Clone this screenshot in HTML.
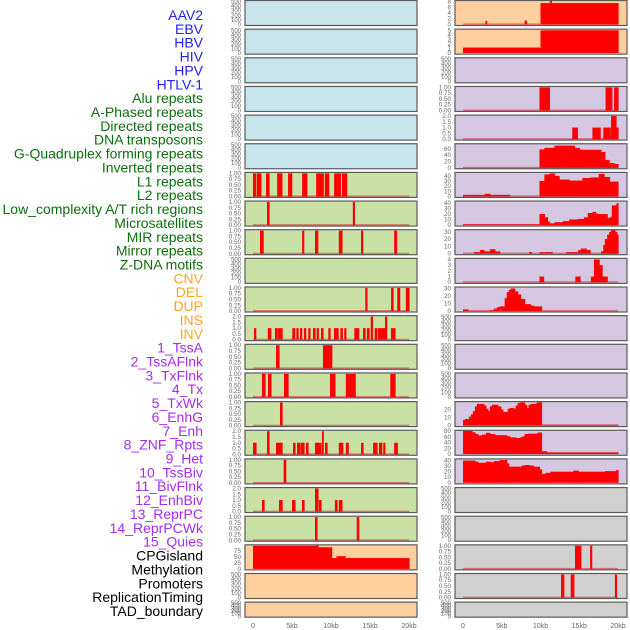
<!DOCTYPE html>
<html><head><meta charset="utf-8"><style>
html,body{margin:0;padding:0;background:#fff;}
svg{display:block;font-family:"Liberation Sans",sans-serif;}
</style></head><body>
<svg id="chart" width="630" height="630" viewBox="0 0 630 630" xmlns="http://www.w3.org/2000/svg"></svg>
<script>
// ---------- data ----------
const labelNames = ["AAV2","EBV","HBV","HIV","HPV","HTLV-1",
 "Alu repeats","A-Phased repeats","Directed repeats","DNA transposons","G-Quadruplex forming repeats","Inverted repeats","L1 repeats","L2 repeats","Low_complexity A/T rich regions","Microsatellites","MIR repeats","Mirror repeats","Z-DNA motifs",
 "CNV","DEL","DUP","INS","INV",
 "1_TssA","2_TssAFlnk","3_TxFlnk","4_Tx","5_TxWk","6_EnhG","7_Enh","8_ZNF_Rpts","9_Het","10_TssBiv","11_BivFlnk","12_EnhBiv","13_ReprPC","14_ReprPCWk","15_Quies",
 "CPGisland","Methylation","Promoters","ReplicationTiming","TAD_boundary"];
const labelGroupSizes = [6,13,5,15,5];
const labelGroupColors = ["#2222f0","#0d6e0d","#ffa520","#a52cf0","#000000"];
const xTickValues = [0,5,10,15,20];
const xTickLabels = ["0","5kb","10kb","15kb","20kb"];

const ticksEmpty = [0,100,200,300,400,500];
const ticksBin = [0,0.25,0.5,0.75,1];
const ticksBin2 = [0,0.5,1,1.5,2];

const barsL6 = [[0,0.35,1],[0.5,1.0,1],[1.67,2.05,1],[3.1,3.7,1],[4.5,4.96,1],[6.3,6.9,1],[8.1,9.0,1],[9.2,9.7,1],[10.4,11.2,1],[11.4,12.0,1]];
const barsL7 = [[1.8,2.05,1],[12.8,13.0,1]];
const barsL8 = [[0.9,1.3,1],[6.3,6.5,1],[7.95,8.3,1],[11.0,11.4,1],[13.85,14.05,1],[18.1,18.4,1]];
const barsL10 = [[14.4,14.6,1],[17.7,17.95,1],[18.5,18.8,1],[19.6,20.0,1]];
const barsL11 = [[0.13,0.35,1],[1.9,2.27,1],[2.82,3.1,1],[3.22,3.72,1],[5.04,5.34,1],[5.56,5.77,1],[6.03,6.24,1],[6.54,6.75,1],[7.09,7.3,1],[7.69,7.95,1],[8.16,8.37,1],[8.72,8.97,1],[9.66,9.87,1],[10.38,10.9,1],[11.2,11.45,1],[11.7,11.9,1],[12.99,13.54,1],[14.1,14.36,1],[14.6,14.87,1],[15.09,15.3,2],[15.6,15.85,1],[16.0,16.9,1],[16.92,17.13,2],[17.69,18.2,1]];
const barsL12 = [[2.95,3.33,1],[8.97,10.1,1]];
const barsL13 = [[1.15,1.54,1],[1.92,2.3,1],[3.97,4.49,1],[9.87,10.5,1],[11.9,13.1,1],[17.6,18.2,1]];
const barsL14 = [[3.46,3.72,1]];
const barsL15 = [[0,0.38,1],[1.8,2.05,2],[2.95,3.72,1],[5.13,5.38,1],[5.64,6.03,1],[6.15,6.54,1],[6.8,7.05,1],[7.95,8.72,1],[8.85,9.0,2],[9.23,9.49,1],[11.0,11.5,1],[11.9,12.2,1],[13.85,14.1,1],[15.4,15.9,1],[16.15,16.5,1],[16.7,16.9,1],[18.1,18.5,1]];
const barsL16 = [[3.93,4.19,1]];
const barsL17 = [[1.15,1.41,1],[3.33,3.72,1],[5.0,5.38,1],[6.28,6.54,1],[7.95,8.33,2],[8.46,8.72,1],[10.5,10.77,1],[11.0,11.4,1]];
const barsL18 = [[7.95,8.2,1],[13.3,13.55,1]];
const barsL19 = [[0,8.1,96],[8.1,8.35,98],[8.35,10.08,90],[10.08,10.7,45],[10.7,11.8,53],[11.8,20,45]];

const barsR0 = [[2.9,3.05,1.2],[7.95,8.2,1.3],[10,20,7.5],[11.2,11.4,8.5]];
const barsR1 = [[0,10,1.2],[10,20,5]];
const barsR3 = [[9.87,11.15,1],[18.4,19.2,1],[19.5,20,1]];
const barsR4 = [[14.1,14.75,1],[16.7,17.7,1],[18.1,19.0,1],[19.1,19.74,2],[19.74,20,1]];
const barsR5 = [[9.87,10.5,58],[10.5,11.8,63],[11.8,14.36,70],[14.36,15.0,63],[15.0,17.8,57],[17.8,18.3,50],[18.3,18.85,25],[18.85,19.5,15],[19.5,20,12]];
const barsR6 = [[0,2.82,3],[2.82,3.46,5],[3.46,6.03,3],[9.87,10.5,30],[10.5,11.15,43],[11.15,11.8,45],[11.8,12.4,40],[12.4,13.7,33],[13.7,15.4,31],[15.4,16.4,36],[16.4,17.5,37],[17.5,18.2,44],[18.2,18.9,38],[18.9,20,29]];
const barsR7 = [[0,9.87,1],[9.87,10.5,20],[10.5,10.9,14],[10.9,11.15,6],[11.15,11.8,3],[11.8,12.9,5],[12.9,13.7,7],[13.7,14.8,10],[14.8,15.6,11],[15.6,16.1,14],[16.1,16.7,22],[16.7,17.1,24],[17.1,17.3,21],[17.3,18.6,20],[18.6,19.0,13],[19.0,19.2,15],[19.2,19.8,36],[19.8,20,40]];
const barsR8 = [[1.41,2.18,2],[2.18,2.7,5],[2.7,3.46,3],[3.46,4.1,6],[4.1,4.74,3],[8.5,8.85,2],[9.87,10.4,2],[10.5,11.5,2],[13.3,14.87,2],[14.87,15.2,5],[15.2,15.9,7],[15.9,16.4,5],[17.8,18.1,3],[18.1,18.3,12],[18.3,18.6,20],[18.6,18.85,26],[18.85,19.1,30],[19.1,19.6,33],[19.6,19.85,30],[19.85,20,26]];
const barsR9 = [[9.87,10.4,1],[14.5,15.1,1],[16.5,16.9,1],[16.9,17.56,4],[17.56,17.95,3],[17.95,18.6,1]];
const barsR10 = [[0,0.64,2],[3.46,3.97,1],[3.97,4.36,3],[4.36,4.74,5],[4.74,5.38,6],[5.38,5.64,17],[5.64,5.9,25],[5.9,6.15,28],[6.15,6.67,30],[6.67,7.05,26],[7.05,7.43,22],[7.43,7.95,16],[7.95,8.72,9],[8.72,9.1,7],[9.1,10.13,6]];
const r14Breaks = [0,0.26,0.77,1.03,1.28,1.54,1.79,2.69,2.95,3.21,3.46,3.72,4.49,4.87,5.13,5.77,6.03,6.54,6.79,7.05,7.31,7.95,8.21,8.46,8.72,9.49,10.13,20];
const r14Vals = [7,8,11,14,18,24,27,25,21,18,24,26,24,20,17,21,22,21,25,28,29,26,22,26,27,29,0.8];
const r15Breaks = [0,1.15,1.54,1.92,2.44,2.95,3.46,4.1,5.64,6.03,6.79,7.31,7.69,7.95,8.46,9.62,10.13,10.77,20];
const r15Vals = [81,76,70,65,68,74,70,66,62,58,56,58,62,70,71,75,10,6];
const r16Breaks = [0,1.54,1.92,2.95,3.59,3.97,4.74,5.64,5.9,7.56,7.95,8.59,9.1,9.87,10.13,10.64,11.28,14.23,14.87,18.33,19.74,20];
const r16Vals = [40,38,36,38,37,39,41,35,29,31,32,31,29,24,16,18,20,22,20,21,23];
const barsR19 = [[14.45,15.2,1],[16.4,16.6,1]];
const barsR20 = [[12.65,13.0,1],[13.9,14.3,1],[19.6,19.8,1]];

function steps(bp, vals){ const out=[]; for(let i=0;i<vals.length;i++) out.push([bp[i],bp[i+1],vals[i]]); return out; }

// ---------- layout ----------
const C = {blue:"#c8e4ec", green:"#c9e1a5", orange:"#ffcf9e", purple:"#d5c6e1", grey:"#d0d0d0"};
const cols = [{x0:245,x1:417,z:253,k:7.8,tx:241},{x0:455,x1:627,z:463,k:7.75,tx:451}];
function P(col,row,bg,ticks,lo,hi,bars,base){return {col,row,bg,ticks,lo,hi,bars,base};}
const E = (c,r,bg)=>P(c,r,bg,ticksEmpty,-25,525,null,false);
const B = (c,r,bars)=>P(c,r,C.green,ticksBin,-0.04,1.04,bars,true);
const panels = [
 E(0,0,C.blue),E(0,1,C.blue),E(0,2,C.blue),E(0,3,C.blue),E(0,4,C.blue),E(0,5,C.blue),
 B(0,6,barsL6),B(0,7,barsL7),B(0,8,barsL8),E(0,9,C.green),B(0,10,barsL10),
 P(0,11,C.green,ticksBin2,-0.08,2.08,barsL11,true),
 B(0,12,barsL12),B(0,13,barsL13),B(0,14,barsL14),
 P(0,15,C.green,ticksBin2,-0.08,2.08,barsL15,true),
 B(0,16,barsL16),
 P(0,17,C.green,ticksBin2,-0.08,2.08,barsL17,true),
 B(0,18,barsL18),
 P(0,19,C.orange,[0,25,50,75],-4,100,barsL19,false),
 E(0,20,C.orange),E(0,21,C.orange),
 P(1,0,C.orange,[0,2,4,6,8],-0.4,8.4,barsR0,true),
 P(1,1,C.orange,[0,1,2,3,4,5],-0.25,5.25,barsR1,false),
 E(1,2,C.purple),
 P(1,3,C.purple,ticksBin,-0.04,1.04,barsR3,true),
 P(1,4,C.purple,ticksBin2,-0.08,2.08,barsR4,true),
 P(1,5,C.purple,[0,20,40,60],-3,76,barsR5,true),
 P(1,6,C.purple,[0,10,20,30,40],-2,47,barsR6,true),
 P(1,7,C.purple,[0,10,20,30,40],-2,44,barsR7,true),
 P(1,8,C.purple,[0,10,20,30],-1.5,33,barsR8,true),
 P(1,9,C.purple,[0,1,2,3,4],-0.2,4.2,barsR9,true),
 P(1,10,C.purple,[0,10,20,30],-1.5,32,barsR10,true),
 E(1,11,C.purple),E(1,12,C.purple),E(1,13,C.purple),
 P(1,14,C.purple,[0,10,20],-1.5,30,steps(r14Breaks,r14Vals),true),
 P(1,15,C.purple,[0,20,40,60,80],-4,83,steps(r15Breaks,r15Vals),false),
 P(1,16,C.purple,[0,10,20,30,40],-2,43,steps(r16Breaks,r16Vals),false),
 E(1,17,C.grey),E(1,18,C.grey),
 P(1,19,C.grey,ticksBin,-0.04,1.04,barsR19,true),
 P(1,20,C.grey,ticksBin,-0.04,1.04,barsR20,true),
 E(1,21,C.grey)
];

// ---------- render ----------
const NS="http://www.w3.org/2000/svg";
const svg=document.getElementById('chart');
function mk(tag,attrs,parent){const e=document.createElementNS(NS,tag);for(const k in attrs)e.setAttribute(k,attrs[k]);(parent||svg).appendChild(e);return e;}

let li=0;
labelGroupSizes.forEach((n,g)=>{
  for(let j=0;j<n;j++){
    const t=mk('text',{x:203,y:15+li*13.86,'text-anchor':'end','dominant-baseline':'central','font-size':'14',fill:labelGroupColors[g]});
    
    
    t.textContent=labelNames[li]; li++;
  }
});

function fmt(v,ticks){
  const needs2 = ticks.some(t=>Math.abs(t*10-Math.round(t*10))>1e-9);
  const needs1 = ticks.some(t=>Math.abs(t-Math.round(t))>1e-9);
  if(needs2) return v.toFixed(2);
  if(needs1) return v.toFixed(1);
  return String(v);
}

panels.forEach((p,idx)=>{
  const c=cols[p.col];
  const top=0.5+p.row*28.65;
  const H=p.row===21?15:25;
  const g=mk('g',{});
  
  
  const bg=mk('rect',{x:c.x0,y:top,width:c.x1-c.x0,height:H,fill:p.bg},g);
  
  
  const ys=v=>top+H-(v-p.lo)/(p.hi-p.lo)*H;
  const xs=kb=>c.z+kb*c.k;
  const cid='clip'+idx;
  const cp=mk('clipPath',{id:cid},g); mk('rect',{x:c.x0,y:top,width:c.x1-c.x0,height:H},cp);
  const bg2=mk('g',{'clip-path':'url(#'+cid+')'},g);
  if(p.base){
    const bl=mk('rect',{x:xs(0),y:ys(0)-1,width:xs(20)-xs(0),height:1.6,fill:'#e0202a',opacity:0.55},bg2);
    
    
  }
  if(p.bars){
    p.bars.forEach(b=>{
      const y=ys(b[2]), y0=ys(0);
      const r=mk('rect',{x:xs(b[0]),y:y,width:Math.max(0.8,xs(b[1])-xs(b[0])+0.6),height:Math.max(0,y0-y),fill:'#ff0000'},bg2);
      
      
    });
  }
  const fr=mk('rect',{x:c.x0,y:top,width:c.x1-c.x0,height:H,fill:'none',stroke:'#5a5a5a','stroke-width':1.2},g);
  
  
  p.ticks.forEach(t=>{
    const tl=mk('text',{x:c.tx,y:ys(t)+2,'text-anchor':'end','font-size':p.ticks===ticksEmpty?'6':'6.3',fill:'#666'},g);
    
    
    tl.textContent=fmt(t,p.ticks);
  });
});

cols.forEach(c=>{
  xTickValues.forEach((v,i)=>{
    const t=mk('text',{x:c.z+v*c.k,y:628,'text-anchor':'middle','font-size':'7',fill:'#666'});
    
    
    t.textContent=xTickLabels[i];
  });
});
</script>
</body></html>
